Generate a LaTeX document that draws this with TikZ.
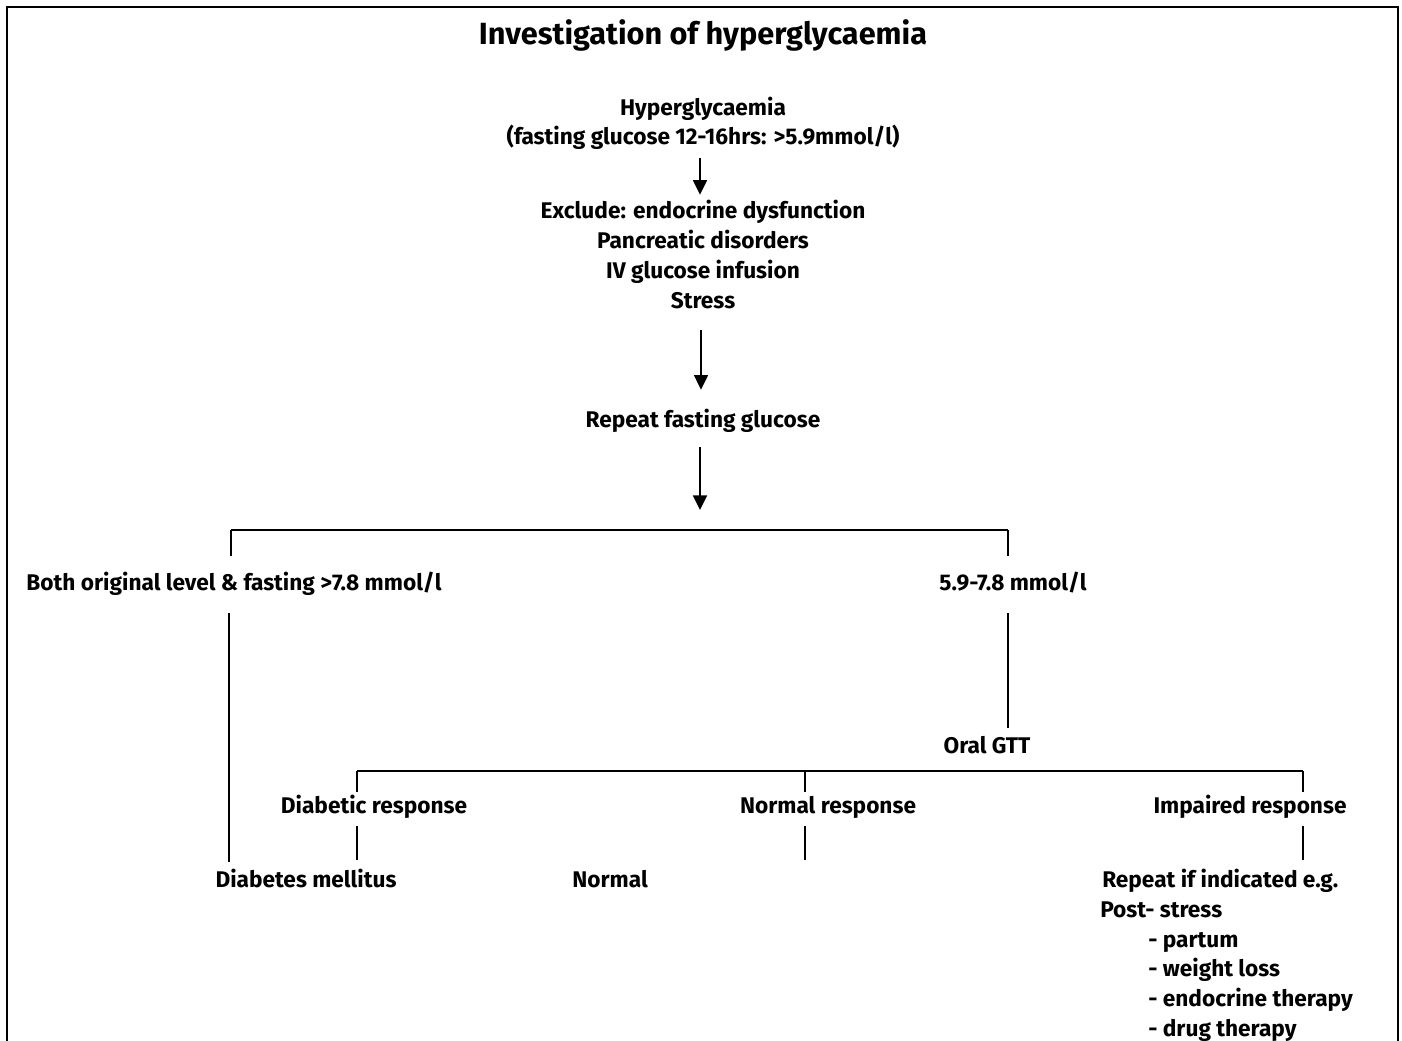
\documentclass[tikz,border=0pt]{standalone}
\usepackage{fontspec}
\setmainfont{Fira Sans}
\usetikzlibrary{arrows.meta}
\begin{document}
\begin{tikzpicture}[x=0.75pt,y=-0.75pt,
 txt/.style={font=\bfseries\fontsize{17}{20}\selectfont, inner sep=0pt, text height=13pt, text depth=4pt},
 ttl/.style={font=\bfseries\fontsize{23}{26}\selectfont, inner sep=0pt},
 arr/.style={line width=1.3pt,-{Triangle[width=10.5pt,length=11pt]}},
 ln/.style={line width=1.2pt}]
\useasboundingbox (0,0) rectangle (1402,1041);
\fill[white] (0,0) rectangle (1402,1041);
\begin{scope}
\clip (0,0) rectangle (1402,1041);
\draw[line width=2pt] (7,1060) -- (7,7) -- (1398,7) -- (1398,1060);
\end{scope}
% title
\node[ttl] (title) at (703,35) {Investigation of hyperglycaemia};
% top chain
\node[txt] (hyp1) at (703,110) {Hyperglycaemia};
\node[txt] (hyp2) at (703,139) {(fasting glucose 12-16hrs: >5.9mmol/l)};
\node[txt] (ex1) at (703,213) {Exclude: endocrine dysfunction};
\node[txt] (ex2) at (703,242) {Pancreatic disorders};
\node[txt] (ex3) at (703,272) {IV glucose infusion};
\node[txt] (ex4) at (703,302) {Stress};
\node[txt] (rep) at (703,421) {Repeat fasting glucose};
\draw[arr, shorten <=5.8pt, shorten >=5pt] ([xshift=-2.25pt]hyp2.south) -- ([xshift=-2.25pt]ex1.north);
\draw[arr, shorten <=12.5pt, shorten >=14.8pt] ([xshift=-1.5pt]ex4.south) -- ([xshift=-1.5pt]rep.north);
\coordinate (b1m) at (700,530);
\coordinate (b1l) at (231,530);
\coordinate (b1r) at (1008,530);
\draw[arr, shorten <=11pt, shorten >=15pt] (rep.south -| b1m) -- (b1m);
% first split
\node[txt] (both) at (234,584) {Both original level \& fasting >7.8 mmol/l};
\node[txt] (mid) at (1013,584) {5.9-7.8 mmol/l};
\draw[ln] (b1l) -- (b1r);
\draw[ln, shorten >=12.5pt] (b1l) -- (b1l |- both.north);
\draw[ln, shorten >=12.5pt] (b1r) -- (b1r |- mid.north);
\node[txt] (dm) at (306,881) {Diabetes mellitus};
\node[txt] (ogtt) at (987,747) {Oral GTT};
\draw[ln, shorten <=13.3pt, shorten >=5.8pt] ([xshift=-1.5pt]b1l |- both.south) -- ([xshift=-1.5pt]b1l |- dm.north);
\draw[ln, shorten <=13.3pt, shorten >=5.8pt] (b1r |- mid.south) -- (b1r |- ogtt.north);
% second split
\coordinate (b2l) at (357,771);
\coordinate (b2m) at (805,771);
\coordinate (b2r) at (1303,771);
\node[txt] (diab) at (374,807) {Diabetic response};
\node[txt] (norm) at (828,807) {Normal response};
\node[txt] (imp) at (1250,807) {Impaired response};
\draw[ln] (b2l) -- (b2r);
\draw[ln, shorten >=2.8pt] (b2l) -- (b2l |- diab.north);
\draw[ln, shorten >=2.8pt] (b2m) -- (b2m |- norm.north);
\draw[ln, shorten >=2.8pt] (b2r) -- (b2r |- imp.north);
\node[txt] (normal) at (610,881) {Normal};
\node[txt, anchor=west] (r1) at (1102,881) {Repeat if indicated e.g.};
\node[txt, anchor=west] (r2) at (1100,911) {Post- stress};
\node[txt, anchor=west] (r3) at (1148,941) {- partum};
\node[txt, anchor=west] (r4) at (1148,970) {- weight loss};
\node[txt, anchor=west] (r5) at (1148,1000) {- endocrine therapy};
\node[txt, anchor=west] (r6) at (1148,1030) {- drug therapy};
\coordinate (nend) at (805,860);
\draw[ln, shorten <=5.8pt, shorten >=7.3pt] (b2l |- diab.south) -- (b2l |- dm.north);
\draw[ln, shorten <=5.8pt] (b2m |- norm.south) -- (nend);
\draw[ln, shorten <=5.8pt, shorten >=7.3pt] (b2r |- imp.south) -- (b2r |- r1.north);
\end{tikzpicture}
\end{document}
